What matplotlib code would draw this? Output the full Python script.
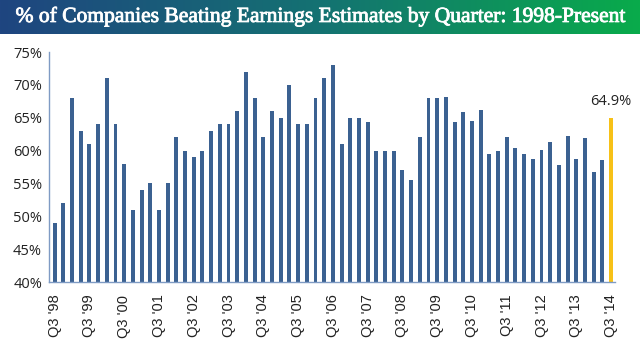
import matplotlib
matplotlib.use("Agg")
import matplotlib.pyplot as plt
import matplotlib.patheffects as pe
import numpy as np
from matplotlib.colors import LinearSegmentedColormap

values = [49, 52, 68, 63, 61, 64, 71, 64, 58, 51, 54, 55, 51, 55, 62, 60, 59, 60, 63, 64,
          64, 66, 72, 68, 62, 66, 65, 70, 64, 64, 68, 71, 73, 61, 65, 65, 64.4, 60, 60, 60,
          57, 55.5, 62, 68, 68, 68.2, 64.4, 65.9, 64.5, 66.2, 59.5, 59.9, 62.1, 60.4, 59.5,
          58.7, 60.1, 61.3, 57.8, 62.2, 58.7, 61.9, 56.7, 58.6, 64.9]
years = ["98", "99", "00", "01", "02", "03", "04", "05", "06", "07", "08", "09", "10",
         "11", "12", "13", "14"]
tick_labels = ["Q3 '" + y for y in years]
title = "% of Companies Beating Earnings Estimates by Quarter: 1998-Present"
last_label = "64.9%"

fig = plt.figure(figsize=(6.4, 3.4), dpi=100)

# Title banner with gradient
bax = fig.add_axes([0, 1 - 34 / 340, 1, 34 / 340])
cmap = LinearSegmentedColormap.from_list("banner", ["#1f4580", "#147272", "#09ab4b"])
grad = np.linspace(0, 1, 256).reshape(1, -1)
bax.imshow(grad, aspect="auto", cmap=cmap, extent=[0, 1, 0, 1])
bax.set_axis_off()
bax.text(0.5, 0.5, title, color="white", ha="center", va="center",
         family="Liberation Serif", fontsize=15.5,
         path_effects=[pe.withStroke(linewidth=0.6, foreground="white")],
         transform=bax.transAxes)

ax = fig.add_axes([49 / 640, 1 - 282 / 340, (615 - 49) / 640, (282 - 52) / 340])
x = np.arange(len(values))
colors = ["#3b6191"] * (len(values) - 1) + ["#f7c117"]
ax.bar(x, [v - 40 for v in values], bottom=40, width=0.45, color=colors)
ax.set_ylim(40, 75)
ax.set_xlim(-0.65, len(values) - 1 + 0.45)
ax.set_yticks(np.arange(40, 76, 5))
ax.set_yticklabels([f"{t}%" for t in range(40, 76, 5)], fontsize=10.5, family="Open Sans", color="#222222")
ax.set_xticks(x[::4])
ax.set_xticklabels(tick_labels, rotation=90, fontsize=10.5, family="Liberation Sans", color="#222222")
ax.tick_params(axis="y", length=0, pad=5)
ax.tick_params(axis="x", length=0, pad=9)
for s in ["top", "right"]:
    ax.spines[s].set_visible(False)
for s in ["left", "bottom"]:
    ax.spines[s].set_color("#7f9bc4")
    ax.spines[s].set_linewidth(1)
ax.text(x[-1], values[-1] + 1.5, last_label, ha="center", va="bottom", fontsize=10.5,
        family="Open Sans", color="#222222")

fig.savefig("out.png", dpi=100)
